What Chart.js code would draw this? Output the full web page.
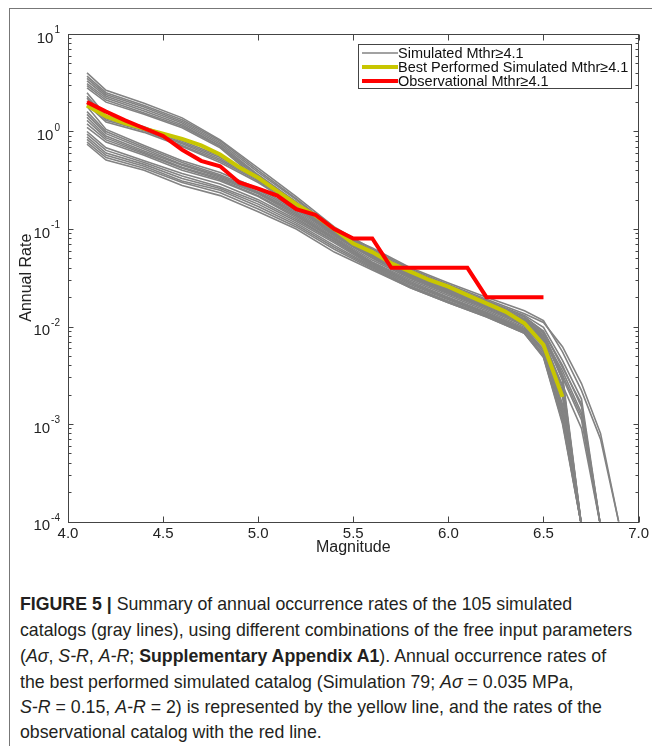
<!DOCTYPE html>
<html>
<head>
<meta charset="utf-8">
<script src="https://cdn.jsdelivr.net/npm/chart.js@4.4.0/dist/chart.umd.min.js"></script>
<style>
html,body{margin:0;padding:0;background:#fff;}
body{width:652px;height:746px;position:relative;overflow:hidden;font-family:"Liberation Sans",Arial,Helvetica,sans-serif;}
#frame{position:absolute;left:9px;top:8px;width:700px;height:800px;border-left:1px solid #777;border-top:1px solid #777;}
#wrap{position:absolute;left:0;top:0;width:652px;height:560px;}
#cap{position:absolute;left:20px;top:0;width:700px;color:#231f20;font-size:19px;}
#cap div{position:absolute;left:0;white-space:nowrap;transform-origin:0 50%;line-height:20px;height:20px;}
</style>
</head>
<body>
<div id="frame"></div>
<div id="wrap"><canvas id="c" width="652" height="560"></canvas></div>
<div id="cap">
<div style="top:594px"><b>FIGURE 5 |</b> Summary of annual occurrence rates of the 105 simulated</div>
<div style="top:620px" id="ref">catalogs (gray lines), using different combinations of the free input parameters</div>
<div style="top:646px">(<i>Aσ</i>, <i>S-R</i>, <i>A-R</i>; <b>Supplementary Appendix A1</b>). Annual occurrence rates of</div>
<div style="top:672px">the best performed simulated catalog (Simulation 79; <i>Aσ</i> = 0.035 MPa,</div>
<div style="top:697px"><i>S-R</i> = 0.15, <i>A-R</i> = 2) is represented by the yellow line, and the rates of the</div>
<div style="top:722px">observational catalog with the red line.</div>
</div>
<script>
// ---------------- data ----------------
const xTickValues = [4.0, 4.5, 5.0, 5.5, 6.0, 6.5, 7.0];
const yDecades = [-4, -3, -2, -1, 0, 1];

// observational catalog (red)
const obsMags = [4.1,4.2,4.3,4.4,4.5,4.6,4.7,4.8,4.9,5.0,5.1,5.2,5.3,5.4,5.5,5.6,5.7,5.8,5.9,6.0,6.1,6.2,6.3,6.4,6.5];
const obsRate = [2.0,1.6,1.3,1.08,0.9,0.65,0.5,0.44,0.3,0.26,0.22,0.16,0.14,0.1,0.08,0.08,0.04,0.04,0.04,0.04,0.04,0.02,0.02,0.02,0.02];

// best performed simulated catalog (yellow)
const bestMags = [4.1,4.2,4.3,4.4,4.5,4.6,4.7,4.8,4.9,5.0,5.1,5.2,5.3,5.4,5.5,5.6,5.7,5.8,5.9,6.0,6.1,6.2,6.3,6.4,6.5,6.6];
const bestRate = [1.85,1.43,1.21,1.07,0.95,0.84,0.72,0.58,0.43,0.335,0.245,0.18,0.138,0.1,0.071,0.058,0.0445,0.0365,0.03,0.0256,0.021,0.0173,0.0142,0.0108,0.0065,0.0019];

// simulated catalogs (gray)
const simMags = [4.1,4.2,4.4,4.6,4.8,5.0,5.2,5.4,5.6,5.8,6.0,6.2,6.4,6.5,6.6,6.7,6.8,6.9];
const simA1 = [4.0,2.65,1.95,1.38,0.82,0.42,0.215,0.105,0.062,0.039,0.027,0.019,0.0135,0.011,0.0062,0.0026,0.0008,0.00009];
const simA2 = [3.7,2.5,1.85,1.32,0.8,0.40,0.205,0.1,0.06,0.038,0.026,0.0185,0.013,0.0098,0.0045,0.0018,0.00009,null];
const simA3 = [3.5,2.4,1.78,1.27,0.77,0.38,0.2,0.098,0.058,0.037,0.0255,0.018,0.0125,0.009,0.004,0.0015,0.00009,null];
const simA4 = [3.3,2.3,1.7,1.22,0.74,0.36,0.19,0.095,0.056,0.036,0.025,0.0175,0.012,0.0085,0.0032,0.00009,null,null];
const simA5 = [3.1,2.2,1.62,1.17,0.71,0.35,0.185,0.092,0.055,0.035,0.024,0.017,0.0118,0.008,0.0028,0.00009,null,null];
const simA6 = [2.95,2.1,1.55,1.13,0.7,0.335,0.18,0.09,0.054,0.034,0.0235,0.0165,0.0115,0.0078,0.0035,0.0013,0.00009,null];
const simA7 = [2.8,2.0,1.5,1.09,0.68,0.32,0.175,0.088,0.052,0.033,0.023,0.016,0.011,0.0075,0.0024,0.00009,null,null];
const simB1 = [2.5,1.45,1.12,0.8,0.56,0.34,0.19,0.095,0.064,0.04,0.028,0.02,0.0145,0.0115,0.0055,0.0022,0.0007,0.00009];
const simB2 = [2.3,1.4,1.08,0.77,0.54,0.33,0.185,0.092,0.057,0.036,0.025,0.0178,0.0125,0.0088,0.0038,0.0016,0.00009,null];
const simB3 = [2.2,1.35,1.05,0.75,0.52,0.32,0.18,0.09,0.055,0.035,0.0245,0.017,0.0118,0.0082,0.0029,0.00009,null,null];
const simB4 = [2.05,1.3,1.02,0.72,0.5,0.31,0.175,0.088,0.053,0.034,0.0238,0.0168,0.0113,0.0076,0.003,0.0011,0.00009,null];
const simB5 = [1.9,1.25,0.98,0.7,0.48,0.3,0.17,0.085,0.051,0.032,0.0225,0.0158,0.0108,0.0072,0.0021,0.00009,null,null];
const simC1 = [1.8,1.05,0.72,0.5,0.38,0.26,0.16,0.092,0.054,0.034,0.024,0.0168,0.0116,0.0079,0.0032,0.0012,0.00009,null];
const simC2 = [1.6,1.0,0.69,0.48,0.36,0.25,0.155,0.088,0.052,0.033,0.0228,0.016,0.011,0.0073,0.0022,0.00009,null,null];
const simC3 = [1.5,0.95,0.66,0.46,0.35,0.24,0.15,0.085,0.05,0.032,0.022,0.0155,0.0105,0.007,0.0019,0.00009,null,null];
const simC4 = [1.4,0.9,0.63,0.45,0.34,0.235,0.145,0.082,0.048,0.031,0.0215,0.015,0.0102,0.0066,0.0025,0.0009,0.00009,null];
const simC5 = [1.3,0.86,0.61,0.43,0.33,0.23,0.14,0.08,0.046,0.03,0.0208,0.0145,0.0098,0.0062,0.0016,0.00009,null,null];
const simC6 = [1.2,0.82,0.59,0.42,0.32,0.22,0.135,0.078,0.045,0.029,0.02,0.014,0.0095,0.0058,0.0014,0.00009,null,null];
const simC7 = [1.1,0.78,0.57,0.4,0.31,0.215,0.13,0.075,0.043,0.028,0.0192,0.0135,0.0092,0.0055,0.0013,0.00009,null,null];
const simD1 = [1.0,0.68,0.5,0.37,0.29,0.2,0.125,0.075,0.044,0.028,0.0195,0.0138,0.0094,0.0058,0.0015,0.00009,null,null];
const simD2 = [0.94,0.64,0.48,0.35,0.27,0.19,0.12,0.072,0.042,0.027,0.0188,0.0133,0.009,0.0055,0.0013,0.00009,null,null];
const simD3 = [0.88,0.6,0.46,0.33,0.26,0.18,0.115,0.068,0.041,0.026,0.0182,0.013,0.0088,0.0052,0.0012,0.00009,null,null];
const simD4 = [0.83,0.57,0.44,0.31,0.25,0.17,0.11,0.065,0.04,0.0255,0.0178,0.0128,0.0086,0.005,0.0011,0.00009,null,null];
const simD5 = [0.78,0.54,0.42,0.3,0.235,0.16,0.105,0.062,0.039,0.025,0.0175,0.0126,0.0085,0.0049,0.00105,0.00009,null,null];
const simD6 = [0.74,0.51,0.4,0.28,0.22,0.15,0.1,0.058,0.038,0.025,0.0175,0.0125,0.0085,0.0048,0.001,0.00009,null,null];
const simulatedLines = [simA1,simA2,simA3,simA4,simA5,simA6,simA7,simB1,simB2,simB3,simB4,simB5,
  simC1,simC2,simC3,simC4,simC5,simC6,simC7,simD1,simD2,simD3,simD4,simD5,simD6];

const legendLabels = ['Simulated Mthr\u22654.1','Best Performed Simulated Mthr\u22654.1','Observational Mthr\u22654.1'];

// ---------------- chart ----------------
const FONT = '"Liberation Sans", Arial, Helvetica, sans-serif';
const GRAY = '#838383', YELLOW = '#c8c600', RED = '#ff0000';
function toXY(mags, vals){ return mags.map((m,i)=>({x:m,y:vals[i]})).filter(p=>p.y!==null); }

const datasets = [
  {label:legendLabels[2], data:toXY(obsMags,obsRate), borderColor:RED, borderWidth:4, order:0},
  {label:legendLabels[1], data:toXY(bestMags,bestRate), borderColor:YELLOW, borderWidth:4, order:1}
];
simulatedLines.forEach(v=>datasets.push({label:legendLabels[0], data:toXY(simMags,v), borderColor:GRAY, borderWidth:1.6, order:2}));

const boxPlugin = {
  id:'matlabBox',
  afterDatasetsDraw(chart){
    const {ctx, chartArea:a, scales:{x, y}} = chart;
    ctx.save();
    ctx.strokeStyle = '#444'; ctx.lineWidth = 1;
    const L = Math.round(a.left)+0.5, R = Math.round(a.right)-0.5, T = Math.round(a.top)+0.5, B = Math.round(a.bottom)+0.5;
    ctx.strokeRect(L, T, R-L, B-T);
    ctx.beginPath();
    xTickValues.forEach(v=>{
      const px = Math.round(x.getPixelForValue(v))+0.5;
      ctx.moveTo(px,B); ctx.lineTo(px,B-6);
      ctx.moveTo(px,T); ctx.lineTo(px,T+6);
    });
    yDecades.forEach(e=>{
      for(let k=1;k<=9;k++){
        if(e===1 && k>1) break;
        const py = Math.round(y.getPixelForValue(k*Math.pow(10,e)))+0.5;
        const len = k===1?5:3;
        ctx.moveTo(L,py); ctx.lineTo(L+len,py);
        ctx.moveTo(R,py); ctx.lineTo(R-len,py);
      }
    });
    ctx.stroke();
    // y tick labels with superscript exponents
    ctx.fillStyle = '#222';
    ctx.textBaseline = 'alphabetic';
    yDecades.forEach(e=>{
      const py = y.getPixelForValue(Math.pow(10,e));
      const exp = String(e);
      ctx.font = '10px '+FONT;
      const ew = ctx.measureText(exp).width;
      const right = 60;
      ctx.textAlign = 'left';
      ctx.fillText(exp, right-ew, py-1);
      ctx.font = '15px '+FONT;
      ctx.textAlign = 'right';
      ctx.fillText('10', right-ew-1, py+8.5);
    });
    ctx.restore();
  },
  afterDraw(chart){
    const ctx = chart.ctx;
    ctx.save();
    const bx=358.5, by=44.5, bw=273, bh=44;
    ctx.fillStyle='#fff'; ctx.fillRect(bx,by,bw,bh);
    ctx.strokeStyle='#444'; ctx.lineWidth=1; ctx.strokeRect(bx,by,bw,bh);
    const rows=[{y:53,c:GRAY,w:1.3},{y:67,c:YELLOW,w:4},{y:81,c:RED,w:4}];
    ctx.font='14.5px '+FONT; ctx.fillStyle='#111'; ctx.textBaseline='middle'; ctx.textAlign='left';
    rows.forEach((r,i)=>{
      ctx.strokeStyle=r.c; ctx.lineWidth=r.w; ctx.lineCap='butt';
      ctx.beginPath(); ctx.moveTo(362,r.y); ctx.lineTo(398,r.y); ctx.stroke();
      ctx.fillText(legendLabels[i], 398, r.y+0.5);
    });
    ctx.restore();
  }
};

new Chart(document.getElementById('c'), {
  type:'line',
  data:{datasets},
  options:{
    responsive:false, animation:false, devicePixelRatio:1,
    layout:{padding:{left:0, top:34, right:11, bottom:0}},
    plugins:{legend:{display:false}, tooltip:{enabled:false}},
    elements:{point:{radius:0}, line:{tension:0}},
    scales:{
      x:{type:'linear', min:4, max:7,
         grid:{display:false, drawTicks:false}, border:{display:false},
         ticks:{stepSize:0.5, callback:v=>Number(v).toFixed(1), font:{family:FONT,size:15}, color:'#222', padding:3, maxRotation:0, autoSkip:false},
         title:{display:true, text:'Magnitude', font:{family:FONT,size:16}, color:'#222', padding:{top:0,bottom:3}},
         afterFit:s=>{s.height=38.5;}},
      y:{type:'logarithmic', min:1e-4, max:10,
         grid:{display:false, drawTicks:false}, border:{display:false},
         ticks:{display:false},
         title:{display:true, text:'Annual Rate', font:{family:FONT,size:16}, color:'#222', padding:{top:17,bottom:0}},
         afterFit:s=>{s.width=68;}}
    }
  },
  plugins:[boxPlugin]
});

// condense caption to the reference line width
(function(){
  const ref = document.getElementById('ref');
  const w = ref.getBoundingClientRect().width;
  const s = 612 / w;
  document.querySelectorAll('#cap div').forEach(d=>{ d.style.transform='scaleX('+s+')'; });
})();
</script>
</body>
</html>
